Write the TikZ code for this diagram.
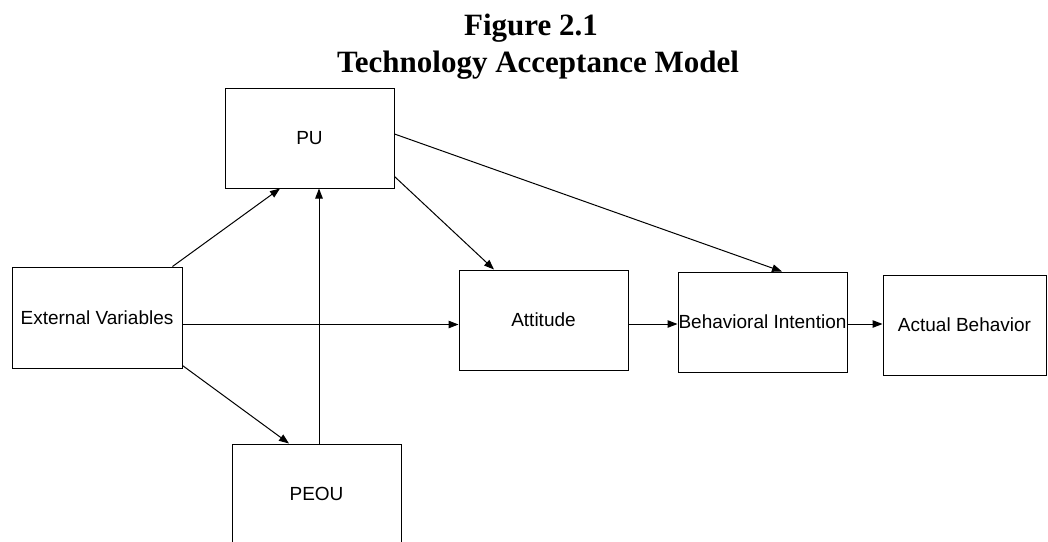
\documentclass[tikz,border=0pt]{standalone}
\usepackage{fontspec}
\setmainfont{Liberation Serif}
\newfontfamily\arialfont{Liberation Sans}
\usetikzlibrary{arrows.meta}
\begin{document}
\begin{tikzpicture}[x=1pt,y=-1pt,
  box/.style={draw=black,line width=1pt,rectangle,inner sep=0pt,
    minimum width=169pt,minimum height=100pt,align=center,
    font=\arialfont\fontsize{19}{23}\selectfont},
  ttl/.style={anchor=base,inner sep=0pt,font=\bfseries\fontsize{31}{37}\selectfont},
  arr/.style={line width=1pt,-{Triangle[length=10pt,width=7.5pt]}}]
\useasboundingbox (0,0) rectangle (1048,541);
\clip (0,0) rectangle (1048,541);
\node[ttl] (t1) at (531,35) {Figure 2.1};
\node[ttl] (t2) at (538,72) {Technology Acceptance Model};
\node[box] (pu) at (309.5,138) {PU};
\node[box,minimum width=170pt,minimum height=101pt] (ev) at (97,317.5) {External Variables};
\node[box] (att) at (543.5,320) {Attitude};
\node[box] (bi) at (762.5,322) {Behavioral Intention};
\node[box,minimum width=163pt] (ab) at (964.5,325) {Actual Behavior};
\node[box] (peou) at (316.5,494) {PEOU};
% connectors
\draw[arr] ([xshift=-10pt]ev.north east) -- ([xshift=-29.5pt]pu.south);
\draw[arr] ([xshift=2.5pt]peou.north) coordinate (pp) -- (pp |- pu.south);
\draw[arr] ([yshift=-7pt]ev.east) coordinate (ee) -- (ee -| att.west);
\draw[arr] ([yshift=3pt]ev.south east) -- ([xshift=-27.5pt]peou.north);
\draw[arr] ([yshift=12pt]pu.south east) -- ([xshift=-49.5pt]att.north);
\draw[arr] ([yshift=4pt]pu.east) -- ([xshift=19.5pt]bi.north);
\draw[arr] ([yshift=-4pt]att.east) coordinate (ae) -- (ae -| bi.west);
\draw[arr] ([yshift=-2pt]bi.east) coordinate (be) -- (be -| ab.west);
\end{tikzpicture}
\end{document}
